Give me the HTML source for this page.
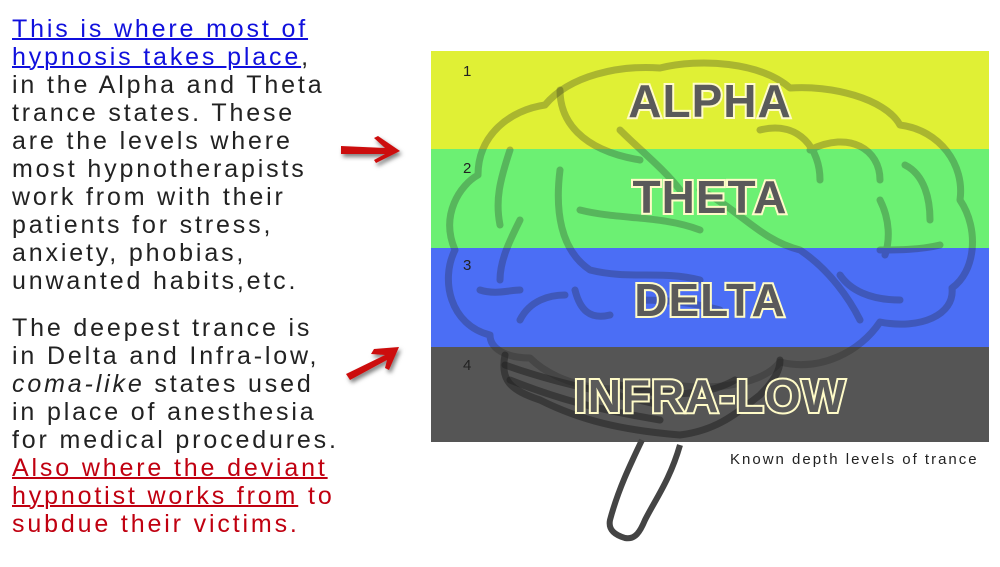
<!DOCTYPE html>
<html><head><meta charset="utf-8"><style>
body{margin:0;width:1000px;height:567px;background:#fff;position:relative;overflow:hidden;font-family:"Liberation Sans",sans-serif}
.t{position:absolute;left:12px;font-size:25px;line-height:28px;letter-spacing:2.85px;color:#222;white-space:pre}
.b{color:#1010dd;text-decoration:underline;text-decoration-thickness:2px}
.r{color:#c00010}
.ru{text-decoration:underline;text-decoration-thickness:2px}
.band{position:absolute;left:431px;width:558px}
.num{position:absolute;left:463px;font-size:15px;color:#222}
.lbl{position:absolute;left:431px;width:558px;text-align:center;font-weight:bold;font-size:46px;color:#5a5a5a;-webkit-text-stroke:4px #fffbc8;paint-order:stroke fill;letter-spacing:1px}
</style></head><body>
<div class="t" style="top:15px"><span class="b">This is where most of</span>
<span class="b">hypnosis takes place</span>,
in the Alpha and Theta
trance states. These
are the levels where
most hypnotherapists
work from with their
patients for stress,
anxiety, phobias,
unwanted habits,etc.</div>
<div class="t" style="top:314px">The deepest trance is
in Delta and Infra-low,
<i>coma-like</i> states used
in place of anesthesia
for medical procedures.
<span class="r"><span class="ru">Also where the deviant</span>
<span class="ru">hypnotist works from</span> to
subdue their victims.</span></div>

<div class="band" style="top:51px;height:98px;background:#e0f035"></div>
<div class="band" style="top:149px;height:99px;background:#6cf073"></div>
<div class="band" style="top:248px;height:99px;background:#4b6ef5"></div>
<div class="band" style="top:347px;height:95px;background:#555"></div>

<svg style="position:absolute;left:0;top:0" width="1000" height="567">
<defs><filter id="sh"><feDropShadow dx="2" dy="3" stdDeviation="2" flood-opacity="0.5"/></filter></defs>
<g fill="none" stroke="#222" stroke-opacity="0.28" stroke-width="7" stroke-linecap="round" stroke-linejoin="round">
<path d="M490,335 C450,325 440,280 455,250 C440,215 460,185 478,175 C478,135 510,110 545,105 C570,75 620,65 660,68 C700,58 760,62 790,88 C830,85 885,98 900,125 C940,130 965,165 960,200 C980,230 975,272 952,288 C955,315 920,330 880,322 C860,352 820,372 780,362 C760,388 700,392 660,382 C620,397 560,388 530,358 C505,358 490,348 490,335 Z"/>
<path d="M560,90 C560,120 580,150 640,160 M620,130 C640,150 665,170 680,190"/>
<path d="M560,170 C555,210 560,250 590,270 C630,280 660,270 700,280 M580,210 C620,220 660,215 700,230"/>
<path d="M700,190 C740,210 760,240 800,250 C830,270 850,300 860,320"/>
<path d="M760,130 C800,120 820,150 820,180 M810,150 C850,130 880,150 880,180"/>
<path d="M905,165 C925,175 930,200 930,220 M880,200 C890,220 890,240 885,255 M940,245 C920,250 895,250 880,250 M840,275 C850,290 870,300 900,300"/>
<path d="M510,150 C500,180 495,200 500,225 M520,220 C510,240 500,260 500,280 M480,290 C495,295 510,290 520,290 M520,320 C530,300 550,295 565,295 M575,290 C580,310 590,320 610,315 M640,300 C680,300 700,305 720,310"/>
</g>
<g fill="none" stroke="#222" stroke-opacity="0.55" stroke-width="7" stroke-linecap="round" stroke-linejoin="round">
<path d="M505,355 C500,380 510,390 540,400 C580,420 620,430 680,435 C720,430 740,410 760,395 C775,380 780,370 780,360"/>
<path d="M505,365 C560,385 620,395 660,405 M510,380 C560,400 600,410 660,420 M620,385 C650,395 700,400 735,380"/>
</g>
<path d="M642,440 C630,465 618,490 610,520 C608,530 615,535 625,538 C635,540 640,532 645,520 C655,500 670,480 680,445" fill="none" stroke="#444" stroke-width="6" stroke-linejoin="round"/>
<g fill="#cc1111" filter="url(#sh)">
<path d="M341,146 L385,148 L374,138 L378,136 L400,151 L376,163 L374,160 L385,154 L341,154 Z"/>
<path d="M346,374 L385,355 L371,354 L374,349 L399,347 L389,370 L385,368 L387,360 L350,380 Z"/>
</g>
</svg>

<div class="num" style="top:63px">1</div>
<div class="num" style="top:160px">2</div>
<div class="num" style="top:257px">3</div>
<div class="num" style="top:357px">4</div>
<div class="lbl" style="top:74px">ALPHA</div>
<div class="lbl" style="top:170px">THETA</div>
<div class="lbl" style="top:273px">DELTA</div>
<div class="lbl" style="top:369px">INFRA-LOW</div>
<div style="position:absolute;left:730px;top:451px;font-size:15px;letter-spacing:2px;color:#222">Known depth levels of trance</div>
</body></html>
